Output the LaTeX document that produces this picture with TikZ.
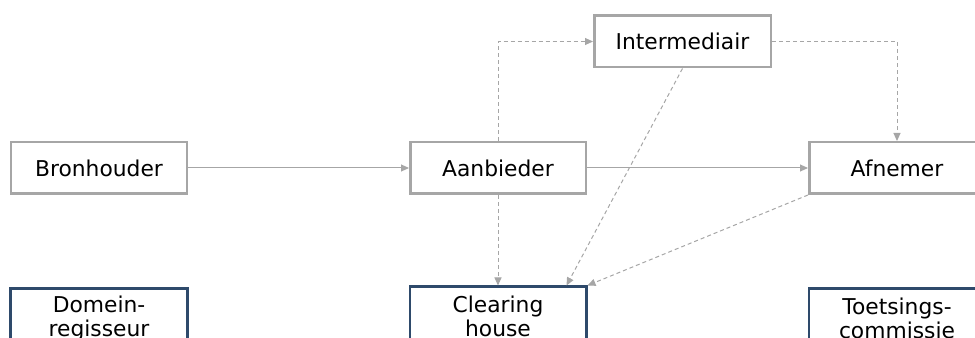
\documentclass[tikz,border=0pt]{standalone}
\usepackage{fontspec}
\setmainfont{DejaVu Sans}
\usetikzlibrary{arrows.meta}
\definecolor{boxgray}{HTML}{A6A6A6}
\definecolor{linegray}{HTML}{A6A6A6}
\definecolor{boxblue}{HTML}{2E4A6B}
\begin{document}
\begin{tikzpicture}
	\clip (0,0) rectangle (19.5,-6.76);
	\tikzstyle{every node}+=[font=\fontsize{12.4}{13.8}\selectfont, align=center]
	\tikzstyle{role}=[draw=boxgray, line width=0.05cm, minimum width=3.51cm, minimum height=1.03cm, inner sep=0pt]
	\tikzstyle{board}=[draw=boxblue, line width=0.05cm, minimum width=3.53cm, minimum height=1.2cm, inner sep=0pt, anchor=north]
	\tikzstyle{flow}=[draw=linegray, line width=0.02cm, -{Triangle[length=0.16cm, width=0.14cm]}]
	\tikzstyle{optflow}=[flow, dash pattern=on 0.08cm off 0.06cm]
	% roles
	\node [role] (bron) at (1.98,-3.36) {Bronhouder};
	\node [role] (aanb) at (9.96,-3.36) {Aanbieder};
	\node [role] (afn) at (17.94,-3.36) {Afnemer};
	\node [role, minimum width=3.53cm] (inter) at (13.65,-0.83) {Intermediair};
	% governance
	\node [board] (domein) at (1.98,-5.75) {Domein-\\regisseur};
	\node [board] (clear) at (9.96,-5.71) {Clearing\\house};
	\node [board] (toets) at (17.94,-5.75) {Toetsings-\\commissie};
	% connectors
	\draw [flow] (bron) -- (aanb);
	\draw [flow] (aanb) -- (afn);
	\draw [optflow] (aanb.north) |- (inter.west);
	\draw [optflow] (inter.east) -| (afn.north);
	\draw [optflow] (aanb.south) -- (clear.north);
	\draw [optflow] (inter.south) -- ([xshift=-0.42cm]clear.north east);
	\draw [optflow] (afn.south west) -- (clear.north east);
\end{tikzpicture}
\end{document}
